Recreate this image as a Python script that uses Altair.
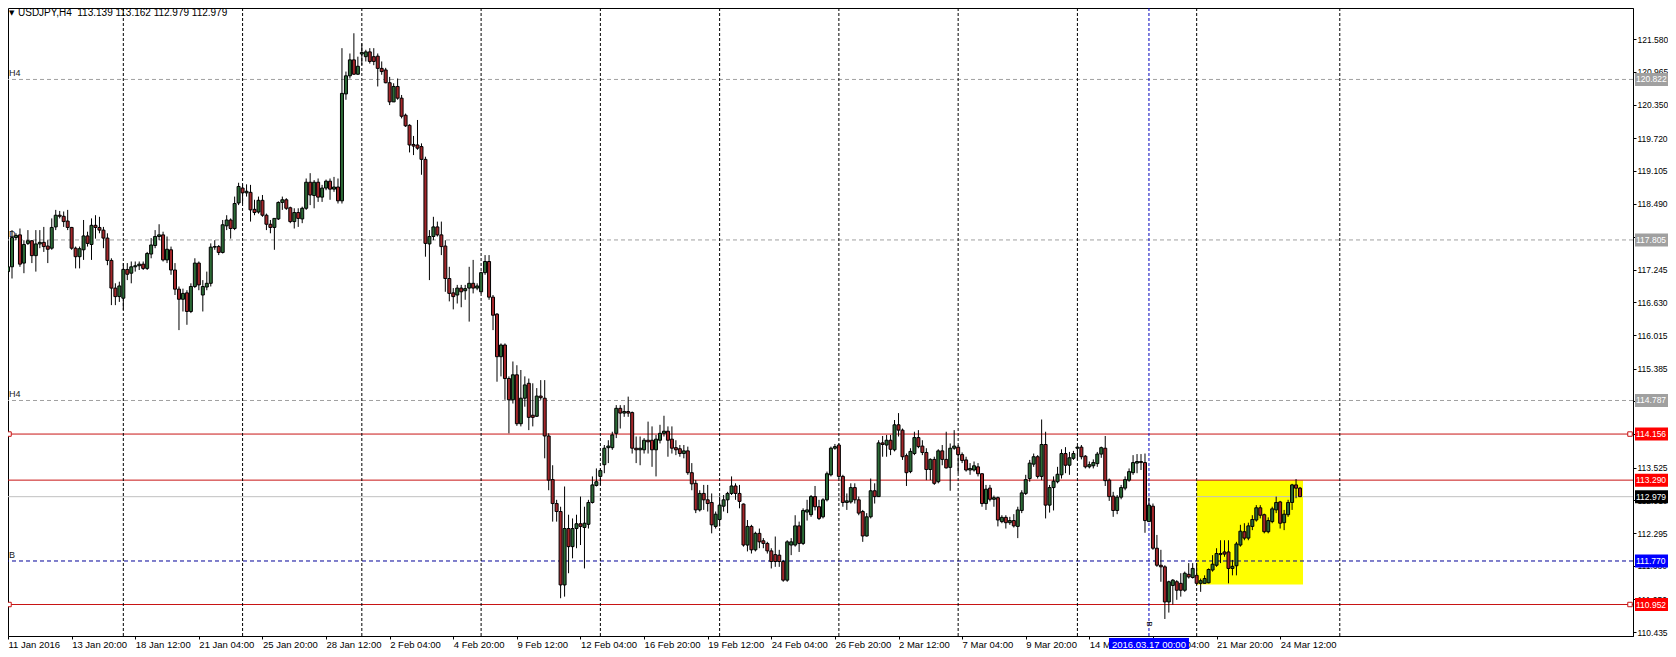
import json
import altair as alt
import pandas as pd

# ---------------- data (USDJPY H4) ----------------
opens = [
    117.21, 117.30, 117.85, 117.90, 117.37, 117.74, 117.79, 117.51, 117.73, 117.76,
    117.69, 117.65, 118.05, 118.27, 118.25, 118.16, 118.04, 117.65, 117.49, 117.62,
    117.88, 117.72, 118.08, 118.04, 117.99, 117.84, 117.42, 116.90, 116.74, 116.71,
    117.25, 117.18, 117.30, 117.32, 117.35, 117.27, 117.54, 117.70, 117.87, 117.90,
    117.43, 117.62, 117.24, 116.88, 116.69, 116.81, 116.46, 116.93, 117.37, 116.77,
    116.92, 116.99, 117.67, 117.68, 117.57, 118.07, 118.18, 118.02, 118.50, 118.78,
    118.69, 118.70, 118.38, 118.33, 118.55, 118.27, 118.10, 118.04, 118.20, 118.51,
    118.56, 118.41, 118.15, 118.32, 118.20, 118.40, 118.89, 118.64, 118.89, 118.61,
    118.78, 118.91, 118.76, 118.80, 118.54, 120.55, 120.89, 121.19, 120.92, 121.30,
    121.25, 121.34, 121.25, 121.26, 121.03, 121.00, 120.76, 120.40, 120.69, 120.47,
    120.15, 119.96, 119.60, 119.59, 119.56, 119.32, 117.73, 117.87, 118.05, 117.90,
    117.69, 117.08, 116.81, 116.77, 116.90, 116.85, 116.90, 116.99, 116.90, 116.83,
    117.19, 117.40, 116.73, 116.41, 115.61, 115.83, 115.20, 114.80, 115.27, 114.35,
    114.83, 115.11, 114.51, 114.49, 114.87, 114.83, 114.12, 113.30, 112.85, 112.70,
    111.32, 112.38, 112.04, 112.38, 112.47, 112.40, 112.46, 112.87, 113.19, 113.36,
    113.58, 113.90, 113.90, 114.17, 114.64, 114.55, 114.58, 114.56, 113.89, 113.86,
    113.86, 114.04, 114.04, 113.86, 114.04, 114.17, 114.21, 114.06, 113.90, 113.88,
    113.79, 113.84, 113.43, 113.23, 112.73, 113.04, 112.92, 112.87, 112.42, 112.55,
    112.80, 112.92, 113.04, 113.18, 113.04, 112.84, 112.07, 112.42, 111.98, 112.29,
    112.15, 112.10, 111.96, 111.89, 111.88, 111.76, 111.41, 112.07, 112.07, 112.43,
    112.10, 112.69, 112.64, 112.98, 112.79, 112.60, 112.92, 113.39, 113.89, 113.95,
    113.36, 112.87, 112.88, 113.15, 112.92, 112.70, 112.24, 112.60, 113.09, 112.98,
    113.99, 113.95, 114.04, 113.86, 114.33, 114.23, 113.75, 113.45, 113.79, 114.09,
    113.93, 113.81, 113.49, 113.68, 113.26, 113.84, 113.68, 113.53, 113.89, 113.91,
    113.77, 113.67, 113.48, 113.48, 113.54, 113.41, 112.85, 113.14, 112.93, 112.96,
    112.51, 112.59, 112.49, 112.53, 112.42, 112.72, 113.04, 113.32, 113.59, 113.73,
    113.36, 113.96, 112.82, 113.15, 113.26, 113.39, 113.79, 113.57, 113.70, 113.89,
    113.91, 113.74, 113.54, 113.56, 113.60, 113.78, 113.89, 113.29, 112.99, 112.72,
    112.97, 113.14, 113.29, 113.43, 113.61, 113.64, 113.62, 112.51, 112.80, 112.01,
    111.69, 111.66, 111.00, 111.31, 111.38, 111.35, 111.22, 111.52, 111.46, 111.50,
    111.35, 111.35, 111.36, 111.60, 111.69, 111.91, 111.94, 111.94, 111.63, 111.68,
    112.07, 112.32, 112.20, 112.42, 112.54, 112.77, 112.64, 112.32, 112.51, 112.73,
    112.88, 112.49, 112.64, 112.87, 113.20, 113.139,
]
highs = [
    117.43, 117.99, 117.93, 118.02, 117.80, 117.99, 117.80, 117.99, 117.99, 118.05,
    117.80, 118.21, 118.37, 118.35, 118.34, 118.37, 118.05, 117.68, 117.68, 118.18,
    117.96, 118.21, 118.27, 118.24, 118.05, 117.93, 117.46, 116.99, 117.02, 117.37,
    117.37, 117.40, 117.40, 117.40, 117.40, 117.58, 117.84, 117.99, 118.10, 117.96,
    117.87, 117.68, 117.37, 116.93, 116.89, 116.86, 116.99, 117.46, 117.40, 117.05,
    117.21, 117.74, 117.80, 117.71, 118.18, 118.27, 118.21, 118.62, 118.88, 118.85,
    118.85, 118.84, 118.56, 118.62, 118.65, 118.30, 118.18, 118.21, 118.53, 118.62,
    118.59, 118.43, 118.40, 118.40, 118.43, 118.96, 119.06, 118.93, 118.96, 118.84,
    118.94, 118.96, 118.99, 118.96, 121.41, 120.97, 121.31, 121.69, 121.25, 121.50,
    121.38, 121.41, 121.41, 121.31, 121.16, 121.04, 120.87, 120.75, 120.84, 120.53,
    120.18, 119.98, 119.76, 120.06, 119.62, 119.37, 117.99, 118.24, 118.15, 118.15,
    117.80, 117.30, 116.90, 116.96, 116.96, 116.96, 117.30, 117.43, 116.99, 117.21,
    117.52, 117.52, 116.77, 116.43, 115.86, 115.86, 115.24, 115.52, 115.45, 115.36,
    115.24, 115.20, 115.11, 115.02, 115.17, 115.17, 114.17, 113.57, 112.92, 112.79,
    113.17, 112.64, 112.57, 112.64, 112.98, 112.79, 112.92, 113.36, 113.51, 113.51,
    113.95, 114.04, 114.20, 114.70, 114.70, 114.70, 114.86, 114.58, 114.11, 114.11,
    114.08, 114.39, 114.30, 114.14, 114.33, 114.50, 114.30, 114.30, 114.04, 113.95,
    113.95, 113.92, 113.61, 113.29, 113.10, 113.20, 113.20, 113.04, 112.70, 112.98,
    113.01, 113.07, 113.36, 113.23, 113.20, 112.85, 112.54, 112.45, 112.32, 112.38,
    112.20, 112.13, 112.01, 112.23, 111.98, 111.79, 112.16, 112.20, 112.63, 112.51,
    112.76, 112.92, 113.01, 113.18, 112.92, 112.95, 113.45, 113.92, 113.97, 113.98,
    113.39, 113.04, 113.23, 113.23, 112.98, 112.73, 112.67, 113.32, 113.23, 114.04,
    114.12, 114.14, 114.14, 114.42, 114.55, 114.26, 113.79, 113.89, 114.20, 114.23,
    114.04, 113.89, 113.70, 113.73, 113.87, 113.95, 114.20, 113.98, 114.23, 113.95,
    113.81, 113.73, 113.61, 113.64, 113.61, 113.42, 113.20, 113.20, 113.00, 112.98,
    112.63, 112.63, 112.60, 112.65, 112.79, 113.10, 113.39, 113.67, 113.79, 113.76,
    114.43, 114.20, 113.20, 113.36, 113.54, 113.87, 113.91, 113.82, 113.84, 113.93,
    113.95, 113.76, 113.64, 113.68, 113.82, 113.92, 114.12, 113.32, 113.07, 113.01,
    113.20, 113.36, 113.51, 113.76, 113.78, 113.78, 113.79, 112.95, 112.85, 112.26,
    111.98, 111.69, 111.40, 111.43, 111.41, 111.54, 111.57, 111.73, 111.73, 111.73,
    111.44, 111.50, 111.63, 111.88, 112.01, 112.16, 112.16, 112.16, 111.79, 112.13,
    112.45, 112.48, 112.49, 112.63, 112.82, 112.82, 112.66, 112.59, 112.79, 112.98,
    112.90, 112.73, 112.92, 113.22, 113.31, 113.162,
]
lows = [
    117.11, 117.08, 117.80, 117.30, 117.18, 117.71, 117.37, 117.21, 117.65, 117.58,
    117.37, 117.62, 117.99, 118.21, 118.05, 117.99, 117.62, 117.27, 117.27, 117.43,
    117.68, 117.43, 117.83, 117.93, 117.65, 117.33, 116.58, 116.58, 116.64, 116.49,
    117.05, 116.99, 117.21, 117.24, 117.24, 117.24, 117.46, 117.65, 117.80, 117.40,
    117.37, 117.15, 116.77, 116.11, 116.46, 116.21, 116.43, 116.90, 116.86, 116.46,
    116.86, 116.93, 117.62, 117.52, 117.55, 117.99, 117.83, 117.99, 118.46, 118.49,
    118.62, 118.15, 118.27, 118.30, 118.24, 117.99, 117.93, 117.62, 118.18, 118.37,
    118.37, 118.12, 118.02, 118.05, 118.12, 118.37, 118.46, 118.40, 118.52, 118.52,
    118.74, 118.56, 118.71, 118.49, 118.49, 120.44, 120.84, 120.91, 120.91, 121.09,
    121.16, 121.12, 121.09, 120.69, 120.91, 120.75, 120.34, 120.40, 120.44, 120.09,
    119.93, 119.45, 119.40, 119.50, 119.03, 117.49, 117.05, 117.80, 117.87, 117.52,
    116.83, 116.65, 116.50, 116.61, 116.54, 116.68, 116.27, 116.80, 116.86, 116.80,
    117.15, 116.68, 116.11, 115.14, 115.24, 114.80, 114.17, 114.73, 114.31, 114.30,
    114.67, 114.23, 114.30, 114.48, 114.80, 113.70, 113.10, 112.51, 112.51, 111.07,
    111.10, 111.54, 111.82, 112.01, 112.07, 111.63, 112.38, 112.85, 113.17, 113.20,
    113.42, 113.61, 113.86, 114.08, 114.26, 114.48, 114.48, 113.79, 113.61, 113.57,
    113.79, 113.79, 113.54, 113.36, 113.98, 114.11, 113.73, 113.79, 113.76, 113.73,
    113.70, 113.39, 113.10, 112.67, 112.70, 112.73, 112.70, 112.29, 112.38, 112.42,
    112.70, 112.67, 113.01, 112.92, 112.76, 112.04, 111.95, 111.91, 111.95, 112.01,
    112.01, 111.91, 111.63, 111.66, 111.66, 111.38, 111.38, 111.88, 112.04, 111.94,
    112.07, 112.53, 112.60, 112.72, 112.54, 112.57, 112.89, 113.36, 113.86, 113.32,
    112.79, 112.73, 112.85, 112.85, 112.63, 112.13, 112.23, 112.57, 112.85, 112.98,
    113.73, 113.73, 113.76, 113.83, 114.11, 113.67, 113.18, 113.42, 113.76, 113.89,
    113.76, 113.29, 113.29, 113.20, 113.23, 113.57, 113.51, 113.09, 113.86, 113.42,
    113.61, 113.45, 113.39, 113.45, 113.36, 112.79, 112.73, 112.89, 112.79, 112.42,
    112.48, 112.38, 112.45, 112.40, 112.20, 112.67, 113.01, 113.26, 113.54, 113.32,
    113.29, 112.57, 112.68, 112.72, 113.23, 113.32, 113.42, 113.39, 113.67, 113.67,
    113.68, 113.51, 113.51, 113.51, 113.54, 113.71, 113.18, 112.90, 112.60, 112.65,
    112.93, 113.10, 113.26, 113.39, 113.42, 113.48, 112.30, 112.51, 111.98, 111.66,
    111.38, 110.68, 110.80, 110.95, 111.04, 111.10, 111.19, 111.44, 111.44, 111.32,
    111.19, 111.35, 111.35, 111.57, 111.66, 111.73, 111.85, 111.35, 111.50, 111.50,
    112.04, 112.16, 112.16, 112.35, 112.51, 112.57, 112.29, 112.29, 112.48, 112.67,
    112.38, 112.35, 112.60, 112.73, 112.95, 112.979,
]
closes = [
    117.30, 117.85, 117.89, 117.35, 117.72, 117.79, 117.51, 117.73, 117.76, 117.68,
    117.63, 118.04, 118.27, 118.25, 118.15, 118.04, 117.65, 117.49, 117.64, 117.88,
    117.74, 118.08, 118.04, 117.99, 117.84, 117.42, 116.90, 116.74, 116.94, 117.25,
    117.16, 117.30, 117.32, 117.35, 117.27, 117.55, 117.71, 117.87, 117.90, 117.43,
    117.63, 117.24, 116.88, 116.69, 116.80, 116.46, 116.93, 117.37, 116.96, 116.93,
    116.99, 117.67, 117.68, 117.57, 118.09, 118.18, 118.02, 118.49, 118.81, 118.69,
    118.72, 118.37, 118.32, 118.55, 118.27, 118.10, 118.04, 118.21, 118.51, 118.56,
    118.40, 118.15, 118.32, 118.21, 118.40, 118.89, 118.65, 118.89, 118.61, 118.78,
    118.91, 118.76, 118.80, 118.54, 120.56, 120.89, 121.19, 120.92, 121.07, 121.33,
    121.34, 121.16, 121.16, 121.03, 120.97, 120.76, 120.40, 120.69, 120.47, 120.13,
    119.95, 119.59, 119.57, 119.53, 119.32, 117.74, 117.87, 118.05, 117.90, 117.68,
    117.08, 116.80, 116.74, 116.90, 116.83, 116.89, 116.99, 116.90, 116.94, 117.19,
    117.40, 116.73, 116.39, 115.61, 115.83, 115.20, 114.80, 115.27, 114.35, 114.83,
    115.08, 114.47, 114.47, 114.87, 114.84, 114.12, 113.29, 112.85, 112.70, 111.32,
    112.38, 112.04, 112.38, 112.47, 112.42, 112.48, 112.87, 113.20, 113.26, 113.47,
    113.89, 113.93, 114.14, 114.64, 114.55, 114.58, 114.55, 113.89, 113.86, 113.89,
    114.04, 114.01, 113.86, 114.06, 114.17, 114.21, 114.04, 113.89, 113.86, 113.79,
    113.84, 113.43, 113.22, 112.73, 113.04, 112.92, 112.85, 112.45, 112.65, 112.82,
    112.92, 113.04, 113.18, 113.04, 112.89, 112.07, 112.42, 111.98, 112.29, 112.13,
    112.10, 111.96, 111.76, 111.76, 111.76, 111.41, 112.13, 112.13, 112.43, 112.10,
    112.72, 112.73, 112.98, 112.79, 112.57, 112.92, 113.41, 113.89, 113.92, 113.36,
    112.87, 112.90, 113.15, 112.92, 112.67, 112.24, 112.60, 113.09, 112.98, 113.99,
    113.96, 114.04, 113.87, 114.33, 114.23, 113.73, 113.43, 113.83, 114.09, 113.92,
    113.81, 113.49, 113.68, 113.23, 113.84, 113.68, 113.52, 113.89, 113.93, 113.77,
    113.66, 113.48, 113.51, 113.56, 113.41, 112.85, 113.12, 112.93, 112.96, 112.54,
    112.59, 112.49, 112.53, 112.43, 112.73, 113.05, 113.30, 113.61, 113.73, 113.36,
    113.96, 112.82, 113.15, 113.27, 113.40, 113.79, 113.57, 113.71, 113.79, 113.91,
    113.73, 113.54, 113.58, 113.62, 113.78, 113.90, 113.28, 112.98, 112.72, 112.97,
    113.15, 113.30, 113.45, 113.62, 113.64, 113.62, 112.53, 112.82, 112.01, 111.69,
    111.66, 111.00, 111.38, 111.41, 111.22, 111.22, 111.54, 111.47, 111.63, 111.35,
    111.40, 111.44, 111.61, 111.71, 111.91, 111.89, 111.90, 111.63, 111.67, 112.09,
    112.33, 112.20, 112.43, 112.55, 112.77, 112.63, 112.32, 112.53, 112.75, 112.87,
    112.48, 112.65, 112.87, 113.20, 113.139, 112.979,
]
bar_index = list(range(len(opens)))

# x-axis labels (bar index -> text), weekly grid lines, current-bar marker
x_label_bars = list(range(0, 321, 16))
x_label_text = ["11 Jan 2016", "13 Jan 20:00", "18 Jan 12:00", "21 Jan 04:00", "25 Jan 20:00",
                "28 Jan 12:00", "2 Feb 04:00", "4 Feb 20:00", "9 Feb 12:00", "12 Feb 04:00",
                "16 Feb 20:00", "19 Feb 12:00", "24 Feb 04:00", "26 Feb 20:00", "2 Mar 12:00",
                "7 Mar 04:00", "9 Mar 20:00", "14 Mar 12:00", "17 Mar 04:00", "21 Mar 20:00",
                "24 Mar 12:00"]
week_grid_bars = [29, 59, 89, 119, 149, 179, 209, 239, 269, 299, 335]
marker_bar = [287]
marker_text = ["2016.03.17 00:00"]

# right price axis ticks
price_ticks = [122.195, 121.580, 120.965, 120.350, 119.720, 119.105, 118.490, 117.860,
               117.245, 116.630, 116.015, 115.385, 114.770, 114.155, 113.525, 112.910,
               112.295, 111.680, 111.050, 110.435]

# horizontal levels
gray_levels = [120.822, 117.805, 114.787]
gray_tags = ["H4", "D", "H4"]
red_levels = [114.156, 113.290, 110.952]
red_square_levels = [114.156, 110.952]
current_price = [112.979]
blue_levels = [111.770]
blue_tags = ["B"]

label_prices = [120.822, 117.805, 114.787, 114.156, 113.290, 112.979, 111.770, 110.952]
label_bg = ["#a0a0a0", "#a0a0a0", "#a0a0a0", "#ff0000", "#ff0000", "#000000", "#0000ff", "#ff0000"]

# yellow box (bar index range, price range)
box_bars = [299, 325.75]
box_prices = [111.33, 113.29]

title_text = "USDJPY,H4\u00a0 113.139 113.162 112.979 112.979"

# ---------------- chart ----------------
highs = [max(h, o, c) for h, o, c in zip(highs, opens, closes)]
lows = [min(l, o, c) for l, o, c in zip(lows, opens, closes)]

FONT = "Liberation Sans"
W, H = 1625, 628
xs = alt.Scale(domain=[1.25, 407.5], nice=False, zero=False)
ys = alt.Scale(domain=[110.360, 122.165], nice=False, zero=False)

candles = pd.DataFrame({"i": bar_index, "open": opens, "high": highs, "low": lows, "close": closes})

label_expr = json.dumps(x_label_text) + "[round(datum.value / 16)]"
x_axis = alt.Axis(orient="bottom", values=x_label_bars, labelExpr=label_expr, labelAlign="left",
                  labelBaseline="top", labelPadding=0, tickSize=3, tickColor="black",
                  domainColor="black", labelColor="black", labelFont=FONT, labelFontSize=9.5,
                  labelOverlap=False, labelFlush=False, labelBound=False, grid=False,
                  title=None, zindex=0)
y_axis = alt.Axis(orient="right", values=price_ticks, format=".3f", tickSize=3, labelPadding=1,
                  labelAlign="left", labelBaseline="middle", grid=False, title=None,
                  labelOverlap=False, labelFlush=False, labelBound=False, domainColor="black",
                  tickColor="black", labelColor="black", labelFont=FONT, labelFontSize=8.5,
                  zindex=0)

def xq(field):
    return alt.X(field, type="quantitative", scale=xs, axis=x_axis, title=None)

def yq(field):
    return alt.Y(field, type="quantitative", scale=ys, axis=y_axis, title=None)

box_df = pd.DataFrame({"x0": [box_bars[0]], "x1": [box_bars[1]], "p0": [box_prices[0]], "p1": [box_prices[1]]})
yellow = alt.Chart(box_df).mark_rect(color="#ffff00").encode(
    x=xq("x0"), x2="x1", y=yq("p0"), y2="p1")

gray_df = pd.DataFrame({"p": gray_levels, "tag": gray_tags})
gray_lines = alt.Chart(gray_df).mark_rule(color="#a0a0a0", strokeDash=[4, 3], strokeWidth=1).encode(y=yq("p"))
red_df = pd.DataFrame({"p": red_levels})
red_lines = alt.Chart(red_df).mark_rule(color="#c81414", strokeWidth=1).encode(y=yq("p"))
cur_df = pd.DataFrame({"p": current_price})
cur_line = alt.Chart(cur_df).mark_rule(color="#c0c0c0", strokeWidth=1).encode(y=yq("p"))
blue_df = pd.DataFrame({"p": blue_levels, "tag": blue_tags})
blue_lines = alt.Chart(blue_df).mark_rule(color="#000099", strokeDash=[4, 3], strokeWidth=1).encode(y=yq("p"))

grid_df = pd.DataFrame({"g": week_grid_bars})
grid = alt.Chart(grid_df).mark_rule(color="black", strokeDash=[3, 2], strokeWidth=1).encode(x=xq("g"))
mk_df = pd.DataFrame({"b": marker_bar, "t": marker_text})
marker_line = alt.Chart(mk_df).mark_rule(color="#0000c0", strokeDash=[3, 2], strokeWidth=1).encode(x=xq("b"))

wicks = alt.Chart(candles).mark_rule(color="black", strokeWidth=1, clip=True).encode(
    x=xq("i"), y=yq("low"), y2="high")
bodies = alt.Chart(candles).mark_bar(size=3, stroke="black", strokeWidth=1, clip=True).encode(
    x=xq("i"), y=yq("open"), y2="close",
    fill=alt.condition("datum.close >= datum.open", alt.value("#2b6a36"), alt.value("#a3262a")))

sq_df = pd.DataFrame({"p": red_square_levels})
sq_left = alt.Chart(sq_df).mark_point(shape="square", size=20, filled=True, fill="white",
                                       stroke="#c81414", strokeWidth=1, opacity=1).encode(
    x=alt.value(1), y=yq("p"))
sq_right = alt.Chart(sq_df).mark_point(shape="square", size=20, filled=True, fill="white",
                                        stroke="#c81414", strokeWidth=1, opacity=1).encode(
    x=alt.value(1622), y=yq("p"))

tags = alt.Chart(pd.concat([gray_df, blue_df])).mark_text(
    align="left", baseline="middle", dy=-6, font=FONT, fontSize=9, color="#202020").encode(
    x=alt.value(1), y=yq("p"), text="tag:N")

lab_df = pd.DataFrame({"p": label_prices, "bg": label_bg, "txt": [f"{v:.3f}" for v in label_prices]})
lab_box = alt.Chart(lab_df).mark_tick(orient="horizontal", size=40, thickness=13, opacity=1).encode(
    x=alt.value(1647), y=yq("p"), color=alt.Color("bg:N", scale=None, legend=None))
lab_txt = alt.Chart(lab_df).mark_text(align="left", baseline="middle", font=FONT, fontSize=8.5,
                                      color="white").encode(
    x=alt.value(1628), y=yq("p"), text="txt:N")

mk_box = alt.Chart(mk_df).mark_tick(orient="horizontal", size=80, thickness=13, opacity=1,
                                    color="#0000ff").encode(x=xq("b"), y=alt.value(636.5))
mk_txt = alt.Chart(mk_df).mark_text(align="center", baseline="middle", font=FONT, fontSize=9.5,
                                    color="white").encode(x=xq("b"), y=alt.value(636.5), text="t:N")
mk_b = alt.Chart(mk_df).mark_text(align="center", baseline="middle", font=FONT, fontSize=8,
                                  angle=90, color="black", dx=-6).encode(
    x=xq("b"), y=alt.value(622), text=alt.value("B"))

one = pd.DataFrame({"t": [title_text]})
title = alt.Chart(one).mark_text(align="left", baseline="middle", font=FONT, fontSize=10,
                                 color="black").encode(x=alt.value(10), y=alt.value(4.5), text="t:N")
tri = alt.Chart(one).mark_text(align="left", baseline="middle", font="DejaVu Sans", fontSize=7,
                               color="black").encode(x=alt.value(1), y=alt.value(4.5), text=alt.value("\u25bc"))

chart = alt.layer(
    yellow, gray_lines, red_lines, cur_line, blue_lines, grid, marker_line,
    wicks, bodies, sq_left, sq_right, tags, title, tri,
    lab_box, lab_txt, mk_box, mk_txt, mk_b,
).properties(
    width=W, height=H,
    autosize=alt.AutoSizeParams(type="none"),
    padding={"left": 0, "top": 0, "right": 35, "bottom": 13},
    background="white",
).configure_view(stroke="black", strokeWidth=1)

chart.save("out.html", embed_options={"renderer": "svg", "actions": False})
